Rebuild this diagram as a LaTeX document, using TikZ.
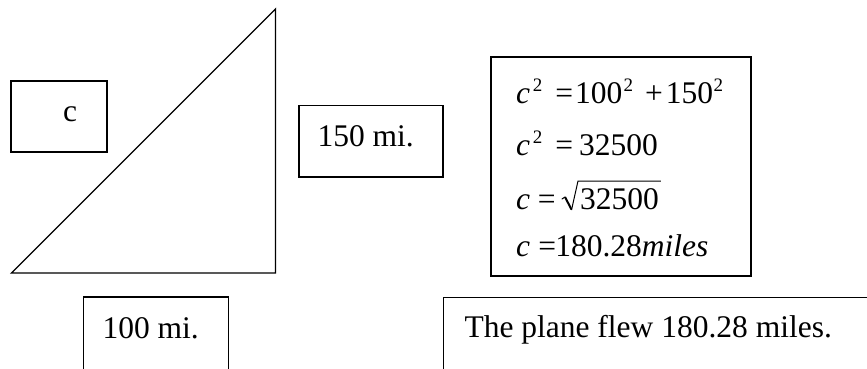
\documentclass[tikz,border=0pt]{standalone}
\usepackage{fontspec}
\setmainfont{Liberation Serif}
\usetikzlibrary{calc}
\newcommand{\supTwo}{\raisebox{12pt}{\fontsize{19}{20}\selectfont 2}}
\begin{document}
\begin{tikzpicture}[x=1pt,y=-1pt, line width=1.3pt,
  txt/.style={inner sep=0pt, outer sep=0pt, anchor=base west, font=\fontsize{31.5}{38}\selectfont},
  eqtxt/.style={txt},
  frame/.style={draw, line width=1.3pt, inner sep=0pt, outer sep=0pt, anchor=north west}]
\useasboundingbox (0,0) rectangle (867,368);
\clip (0,0) rectangle (867,368);
% triangle
\coordinate (A) at (11.5,273);
\coordinate (B) at (275.5,273);
\coordinate (C) at (275.5,9);
\draw[line join=miter] (A) -- (B) -- (C) -- cycle;
% boxes
\node[frame, minimum width=96pt, minimum height=71pt] (cbox) at (11,81) {};
\node[frame, minimum width=144pt, minimum height=71.5pt] (box150) at (299,105.5) {};
\node[frame, minimum width=260pt, minimum height=219pt] (eqbox) at (491,57) {};
\node[frame, minimum width=145pt, minimum height=90pt] (box100) at (83.3,297) {};
\node[frame, minimum width=460pt, minimum height=90pt] (boxplane) at (443.3,297.5) {};
% texts
\node[txt] (ct) at (63,121.7) {c};
\node[txt] (t150) at (317.5,146.7) {150 mi.};
\node[txt] (t100) at (102.5,338.3) {100 mi.};
\node[txt] (tplane) at (464.5,337.7) {The plane flew 180.28 miles.};
% equations
\node[eqtxt] (eq1) at (516,103) {\textit{c}\hspace{3pt}\supTwo\hspace{13pt}=\hspace{2pt}100\hspace{1pt}\supTwo\hspace{12pt}+\hspace{3pt}150\hspace{0.5pt}\supTwo};
\node[eqtxt] (eq2) at (516,155) {\textit{c}\hspace{3pt}\supTwo\hspace{13pt}=\hspace{6pt}32500};
\node[eqtxt] (eq3) at (516,209) {\textit{c}\hspace{8pt}=};
\node[eqtxt] (eq3r) at (580,209) {32500};
\draw[line width=1pt, line join=round, line cap=round]
  ($(eq3r.base west)+(-18,-10)$) -- ($(eq3r.base west)+(-15,-12)$);
\draw[line width=2pt, line cap=butt]
  ($(eq3r.base west)+(-15,-12)$) -- ($(eq3r.base west)+(-8.5,0.5)$);
\draw[line width=1pt, line join=miter]
  ($(eq3r.base west)+(-8.5,1)$)
  -- ($(eq3r.base west)+(-2,-28)$)
  -- ($(eq3r.base east)+(2,-28)$);
\node[eqtxt] (eq4) at (516,256) {\textit{c}\hspace{8.5pt}=\hspace{-1pt}180.28\textit{miles}};
\end{tikzpicture}
\end{document}
